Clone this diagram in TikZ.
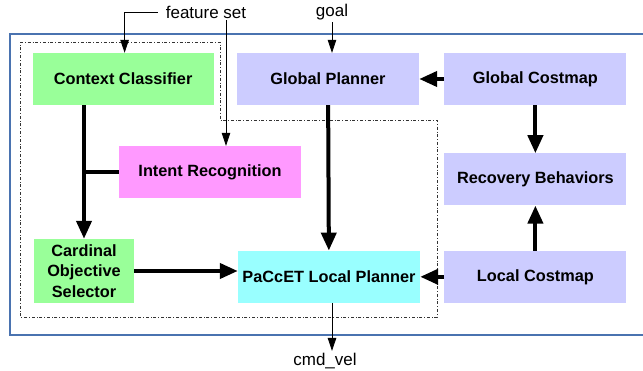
\documentclass[tikz,border=0pt]{standalone}
\usepackage{fontspec}
\setmainfont{Liberation Sans}
\usetikzlibrary{arrows.meta, positioning}
\definecolor{ctxgreen}{HTML}{99FF99}
\definecolor{plangray}{HTML}{CCCCFF}
\definecolor{intentpink}{HTML}{FF99FF}
\definecolor{localcyan}{HTML}{99FFFF}
\definecolor{frameblue}{HTML}{4A73B0}

\begin{document}
\begin{tikzpicture}[x=1pt, y=-1pt, >=Triangle]
  % Define styles
  \tikzstyle{block} = [rectangle, minimum width=182pt, minimum height=52pt, inner sep=2pt, align=center, font=\fontsize{16.3}{20.5}\selectfont\bfseries]
  \tikzstyle{label} = [inner sep=2pt, font=\fontsize{17}{20}\selectfont]
  \tikzstyle{thickarrow} = [line width=4pt, -{Triangle[length=18pt, width=15pt]}]
  \tikzstyle{thinarrow} = [line width=0.8pt, -{Triangle[length=13pt, width=8.5pt]}]

  \useasboundingbox (0,0) rectangle (643,371);

  % Frames
  \draw[frameblue, line width=1.8pt] (650,34) -- (10,34) -- (10,335) -- (650,335);
  \draw[black!80, line width=0.6pt, dash dot] (20,42) -- (220,42) -- (220,120) -- (437,120) -- (437,317) -- (20,317) -- cycle;

  % Place nodes
  \node [block, fill=plangray] (globalPlan) at (328,79) {Global Planner};
  \node [block, fill=ctxgreen, minimum width=181pt, left=23pt of globalPlan] (ctxClass) {Context Classifier};
  \node [block, fill=plangray, right=25pt of globalPlan] (globalCost) {Global Costmap};
  \node [block, fill=plangray, below=48pt of globalCost] (recovery) {Recovery Behaviors};
  \node [block, fill=plangray, below=45pt of recovery] (localCost) {Local Costmap};
  \node [block, fill=localcyan, left=24pt of localCost] (localPlan) {PaCcET Local Planner};
  \node [block, fill=intentpink] (intentRec) at (210,172) {Intent Recognition};
  \node [block, fill=ctxgreen, minimum width=100pt, minimum height=64pt] (cardSel) at (84,271) {Cardinal\\Objective\\Selector};

  \node [label] (featureSet) at (206,12) {feature set};
  \node [label] (goal) at (332,12) {goal};
  \node [label] (cmdVel) at (325,361) {cmd\_vel};

  % Draw edges
  \draw [thinarrow] ([xshift=-6pt]featureSet.west) -| ([xshift=1.5pt]ctxClass.north);
  \draw [thinarrow] ([xshift=20pt]featureSet.south) -- ([xshift=20pt]featureSet.south |- intentRec.north);
  \draw [thinarrow] (goal.south) -- (goal.south |- globalPlan.north);
  \draw [thickarrow] (globalCost) -- (globalPlan);
  \draw [thickarrow] (globalCost) -- (recovery);
  \draw [thickarrow] (localCost) -- (recovery);
  \draw [thickarrow] (localCost) -- (localPlan);
  \draw [thickarrow] (globalPlan) -- (localPlan);
  \draw [thickarrow] (cardSel.north |- ctxClass.south) -- (cardSel.north);
  \draw [line width=4pt] (intentRec.west) -- ([xshift=-2pt]intentRec.west -| cardSel.north);
  \draw [thickarrow] (cardSel.east) -- (cardSel.east -| localPlan.west);
  \draw [thinarrow] ([xshift=3pt]localPlan.south) -- ([xshift=3pt]localPlan.south |- cmdVel.north);
\end{tikzpicture}
\end{document}
